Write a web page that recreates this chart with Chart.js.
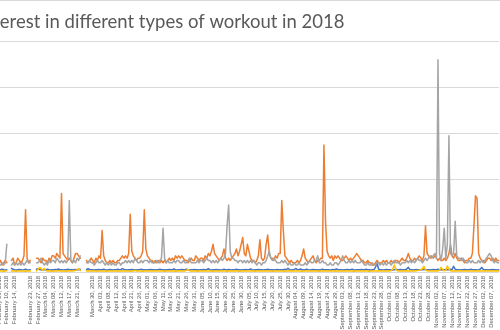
<!DOCTYPE html>
<html>
<head>
<meta charset="utf-8">
<script src="https://cdn.jsdelivr.net/npm/chart.js@4.4.1/dist/chart.umd.min.js"></script>
<style>
  html, body { margin: 0; padding: 0; background: #fff; width: 500px; height: 330px; overflow: hidden; }
  #wrap { position: absolute; top: 0; }
  #edge { position: absolute; left: 0; top: 0; width: 500px; height: 1px; background: #d9d9d9; }
</style>
</head>
<body>
<div id="wrap"><canvas id="chart"></canvas></div>
<div id="edge"></div>
<script>
const TITLE = 'Interest in different types of workout in 2018';

// One date label for every fifth row of the sheet ('' where the date cell is empty)
const tickLabels = [
  'February 06, 2018', 'February 10, 2018', 'February 14, 2018', '', 'February 23, 2018',
  'February 27, 2018', 'March 04, 2018', 'March 08, 2018', 'March 12, 2018', 'March 17, 2018',
  'March 21, 2018', '', 'March 30, 2018', 'April 03, 2018', 'April 08, 2018',
  'April 12, 2018', 'April 16, 2018', 'April 21, 2018', 'April 26, 2018', 'May 01, 2018',
  'May 06, 2018', 'May 11, 2018', 'May 16, 2018', 'May 21, 2018', 'May 26, 2018',
  'May 31, 2018', 'June 05, 2018', 'June 10, 2018', 'June 15, 2018', 'June 20, 2018',
  'June 25, 2018', 'June 30, 2018', 'July 05, 2018', 'July 10, 2018', 'July 15, 2018',
  'July 20, 2018', 'July 25, 2018', 'July 30, 2018', 'August 04, 2018', 'August 09, 2018',
  'August 14, 2018', 'August 19, 2018', 'August 24, 2018', 'August 29, 2018', 'September 03, 2018',
  'September 08, 2018', 'September 13, 2018', 'September 18, 2018', 'September 23, 2018', 'September 28, 2018',
  'October 03, 2018', 'October 08, 2018', 'October 13, 2018', 'October 18, 2018', 'October 23, 2018',
  'October 28, 2018', 'November 02, 2018', 'November 07, 2018', 'November 12, 2018', 'November 17, 2018',
  'November 22, 2018', 'November 27, 2018', 'December 02, 2018', 'December 07, 2018'
];
const ROWS_PER_LABEL = 5;

const orangeSeries = [
  4,5,3,4,5, 4,null,null,5,6,
  3,4,6,5,4, 5,7,27,6,4,
  5,null,null,null,6, 6,5,4,6,5,
  5,4,6,5,7, 7,6,8,7,6,
  34,8,7,6,5, 6,5,4,6,8,
  8,7,6,null,null, null,5,4,5,6,
  5,4,6,5,7, 6,18,7,5,4,
  4,5,4,5,4, 4,5,5,6,7,
  6,7,6,8,25, 9,7,6,5,6,
  6,7,9,27,10, 7,6,5,5,4,
  5,4,5,4,5, 4,5,4,5,6,
  5,6,5,7,6, 7,6,7,6,5,
  5,4,5,6,5, 5,7,6,5,6,
  6,5,7,6,8, 7,9,12,8,7,
  6,5,6,7,10, 6,5,6,5,6,
  7,8,10,7,9, 12,15,8,7,12,
  9,6,5,5,4, 5,7,14,6,5,
  6,12,16,8,6, 6,5,7,6,8,
  8,31,18,7,6, 5,4,5,4,4,
  4,5,4,5,7, 10,6,5,4,5,
  6,7,5,4,5, 5,6,6,55,22,
  9,7,6,7,5, 7,6,7,6,5,
  5,6,7,6,5, 6,5,6,7,8,
  7,6,5,5,4, 4,5,4,4,3,
  3,4,5,4,4, 4,5,4,5,4,
  4,5,4,4,5, 5,4,5,6,5,
  5,6,8,6,5, 5,6,5,6,7,
  6,5,7,20,8, 7,6,7,6,7,
  6,5,6,5,5, 6,5,6,8,12,
  7,6,8,6,5, 5,6,5,4,5,
  5,6,6,8,20, 33,32,8,6,5,
  5,4,5,6,6, 5,6,5,6,5,
  5
];

const graySeries = [
  3,3,4,3,4, 12,null,null,3,4,
  3,4,3,4,3, 4,3,4,5,4,
  4,null,null,null,4, 4,5,6,4,3,
  4,3,5,4,5, 5,4,6,5,4,
  5,4,5,4,5, 31,5,4,5,4,
  6,5,7,null,null, null,4,4,5,4,
  4,3,4,5,4, 4,5,4,3,4,
  3,4,3,4,3, 3,4,4,3,4,
  4,5,4,5,4, 5,4,6,5,4,
  4,5,4,5,5, 5,4,5,4,4,
  4,5,4,5,6, 19,6,4,5,4,
  4,4,5,4,5, 5,4,4,5,4,
  4,5,6,4,4, 4,4,5,4,5,
  5,4,5,6,5, 5,4,5,4,5,
  4,5,6,5,6, 8,20,29,9,6,
  6,5,5,4,5, 5,4,5,4,5,
  4,5,4,5,4, 3,4,4,3,4,
  4,5,7,9,6, 5,6,5,4,4,
  4,5,4,5,4, 3,4,3,3,4,
  3,3,4,3,3, 3,4,3,4,5,
  4,4,5,5,7, 4,4,5,4,4,
  3,3,4,3,3, 4,4,3,4,5,
  7,5,4,4,5, 4,5,4,5,4,
  4,4,5,4,3, 3,4,3,3,4,
  3,3,4,4,3, 4,3,4,3,4,
  4,3,4,5,4, 4,4,3,4,4,
  4,5,4,5,4, 5,4,5,6,5,
  5,4,5,6,5, 6,7,6,7,8,
  6,92,8,5,10, 19,6,12,59,8,
  7,8,22,7,6, 6,5,6,5,4,
  4,5,4,5,4, 4,4,5,4,5,
  4,5,6,7,8, 7,5,4,5,4,
  4
];

const blueSeries = [
  1,1,1.2,1,0.9, 1,null,null,1.6,1.2,
  1,0.9,1,1.1,1, 0.9,1,1.2,1,0.9,
  1,null,null,null,1.2, 1.4,1.1,1,0.9,1,
  1,1.2,1,0.9,1, 1,1.1,1,1.3,1,
  1,0.9,1,1,1.2, 1,1,0.9,1,1.1,
  1,1,1.2,null,null, null,1,1.4,1.1,1,
  1,0.9,1,1,1.1, 1,1,1.2,1,0.9,
  1,1.1,1,0.9,1, 1,1.2,1,1,1.5,
  1.1,1,0.9,1,1, 1.1,1,1,0.9,1,
  1,1.2,1,1,0.9, 1,1,1.1,1,1,
  0.9,1,1,1.2,1, 1,0.9,1,1,1.1,
  1,1,1.3,1,0.9, 1,1,1.1,1,1,
  1.2,1,0.9,1,1, 1.1,1,1,0.9,1,
  1,1.1,1,1,1.4, 1,0.9,1,1,1.1,
  1,1,0.9,1,1.2, 1,1,1.1,1,0.9,
  1,1,1.2,1,1, 0.9,1,1,1.1,1,
  1,1.3,1,0.9,1, 1,1.1,1,1,0.9,
  1,1,1.2,1,1, 1,0.9,1,1.1,1,
  1,1,1,1.2,1, 1.6,1,0.9,1,1.1,
  1.5,1,1,1.3,1, 1,1,1.2,1,0.9,
  1,1.1,1,1,0.9, 1,1,1.2,1,1,
  1,1,0.9,1,1.1, 1,1.3,1,1,1,
  0.9,1,1,1.1,1, 1,1.2,1,0.9,1,
  1,1,1.1,1,1, 1.2,1,1,0.9,1,
  1,2,4,1.2,1, 1,0.9,1,1.1,1,
  1,1,0.9,1,1.2, 1,1,1.1,1,1,
  1,1.3,2,1,1, 0.9,1,1.1,1,1,
  1,1,1.2,1,1, 1,0.9,1,1.1,1,
  1,1.2,1,1,0.9, 1,1.1,1,1,1.2,
  1,2.5,1.2,1,1, 0.9,1,1,1.1,1,
  1,1,1.2,1,1, 1,0.9,1,1.2,2,
  1.1,1,1,0.9,1, 1,1.1,1,1,0.9,
  1
];

const yellowSeries = [
  0.4,0.5,0.4,0.3,0.4, 0.5,null,null,0.4,0.5,
  0.4,0.3,0.5,0.4,0.4, 0.5,0.4,0.3,0.4,0.5,
  0.4,null,null,null,0.5, 1.2,2,1.5,0.8,1.6,
  0.6,0.4,0.5,0.4,0.3, 0.4,0.5,0.4,0.6,0.4,
  0.4,0.5,0.4,0.3,0.4, 0.5,0.4,0.4,0.5,0.6,
  1,1.5,0.6,null,null, null,0.4,0.5,0.4,0.4,
  0.5,0.4,0.4,0.3,0.5, 0.4,0.4,0.5,0.4,0.3,
  0.4,0.5,0.4,0.4,0.5, 0.4,0.3,0.4,0.5,0.4,
  0.4,0.5,0.4,0.4,0.3, 0.5,0.4,0.8,0.4,0.4,
  0.5,0.4,0.3,0.4,0.5, 0.4,0.4,0.5,0.4,0.4,
  0.4,0.5,0.4,0.4,0.5, 0.4,0.3,0.4,0.5,0.4,
  0.4,0.5,0.4,0.3,0.4, 0.5,0.4,0.4,0.5,0.4,
  0.8,1,0.5,0.4,0.4, 0.5,0.4,0.3,0.4,0.5,
  0.4,0.4,0.5,0.4,0.4, 0.5,0.4,0.3,0.4,0.4,
  0.5,0.4,0.4,0.5,0.4, 0.4,0.3,0.4,0.5,0.4,
  0.4,0.5,0.4,0.4,0.3, 0.4,0.5,0.4,0.4,0.5,
  0.4,0.4,0.5,0.4,0.3, 0.4,0.5,0.4,0.4,0.5,
  0.4,0.4,0.5,0.4,0.4, 0.3,0.4,0.5,0.4,0.4,
  0.5,0.4,0.4,0.3,0.4, 0.5,0.4,0.4,0.5,0.4,
  0.4,0.5,0.4,0.4,0.3, 0.4,0.5,0.4,0.4,0.5,
  0.4,0.4,0.5,0.4,0.4, 0.3,0.4,0.5,0.4,0.4,
  0.5,0.4,0.4,0.5,0.4, 0.4,0.3,0.4,0.5,0.4,
  0.4,0.5,0.4,0.4,0.5, 0.4,0.4,0.3,0.4,0.5,
  0.4,0.4,0.5,0.4,0.4, 0.5,0.4,0.3,0.4,0.4,
  0.5,0.4,0.4,0.5,0.4, 0.4,0.5,0.4,0.4,0.5,
  0.4,0.6,1.2,3,1.2, 0.5,0.4,0.4,0.5,0.4,
  0.4,0.5,0.4,0.4,0.5, 0.4,0.4,0.5,0.6,0.8,
  1,1.4,2.5,1,0.5, 0.4,0.4,0.5,0.4,0.4,
  0.5,0.4,0.8,2,1, 0.5,0.8,2.6,1.2,0.5,
  0.4,0.4,0.5,0.4,0.4, 0.5,0.4,0.4,0.5,0.4,
  0.4,0.5,0.4,0.4,0.5, 0.4,0.4,0.5,0.4,0.4,
  0.5,0.4,0.4,0.5,0.4, 0.4,0.5,0.4,0.4,0.5,
  0.4
];

// Row labels: the date sits on every fifth row, the rest stay blank
const categories = orangeSeries.map((_, i) =>
  i % ROWS_PER_LABEL === 0 ? (tickLabels[i / ROWS_PER_LABEL] || '') : '');

const TEXT = '#595959';
const GRID = '#d9d9d9';
const titleFont = { family: 'Lato', size: 18.5, weight: 'normal' };

// The frame is scrolled so the plot starts at the page's left edge;
// the leading part of the title falls outside the view.
const probe = document.createElement('canvas').getContext('2d');
probe.font = `${titleFont.size}px ${titleFont.family}`;
const lead = Math.round(probe.measureText('Int').width);

const canvas = document.getElementById('chart');
const wrap = document.getElementById('wrap');
wrap.style.left = (-lead) + 'px';
canvas.width = lead + 510;
canvas.height = 330;

new Chart(canvas.getContext('2d'), {
  type: 'line',
  data: {
    labels: categories,
    datasets: [
      { label: 'Series 1', data: blueSeries,   borderColor: '#4472C4', order: 3 },
      { label: 'Series 2', data: orangeSeries, borderColor: '#ED7D31', order: 2 },
      { label: 'Series 3', data: graySeries,   borderColor: '#A5A5A5', order: 1 },
      { label: 'Series 4', data: yellowSeries, borderColor: '#FFC000', order: 0 }
    ]
  },
  options: {
    responsive: false,
    animation: false,
    devicePixelRatio: 1,
    spanGaps: false,
    layout: { padding: { left: 0, right: 5, top: 0, bottom: 0 } },
    elements: {
      line: { borderWidth: 1.5, tension: 0, borderJoinStyle: 'round', borderCapStyle: 'round', fill: false },
      point: { radius: 0, hoverRadius: 0 }
    },
    plugins: {
      legend: { display: false },
      tooltip: { enabled: false },
      title: {
        display: true,
        text: TITLE,
        align: 'start',
        color: TEXT,
        font: titleFont,
        padding: { top: 11, bottom: 8 }
      }
    },
    scales: {
      x: {
        type: 'category',
        offset: false,
        grid: { display: false, drawTicks: false },
        border: { display: true, color: GRID, width: 1 },
        ticks: {
          autoSkip: false,
          minRotation: 90,
          maxRotation: 90,
          padding: 4,
          color: TEXT,
          font: { family: 'Liberation Sans', size: 5.9 }
        },
        afterFit: (scale) => { scale.height = 58; }
      },
      y: {
        min: 0,
        max: 100,
        ticks: { display: false, stepSize: 20 },
        grid: { color: GRID, lineWidth: 1, drawTicks: false },
        border: { display: false },
        afterFit: (scale) => { scale.width = lead - 1; }
      }
    }
  }
});
</script>
</body>
</html>
